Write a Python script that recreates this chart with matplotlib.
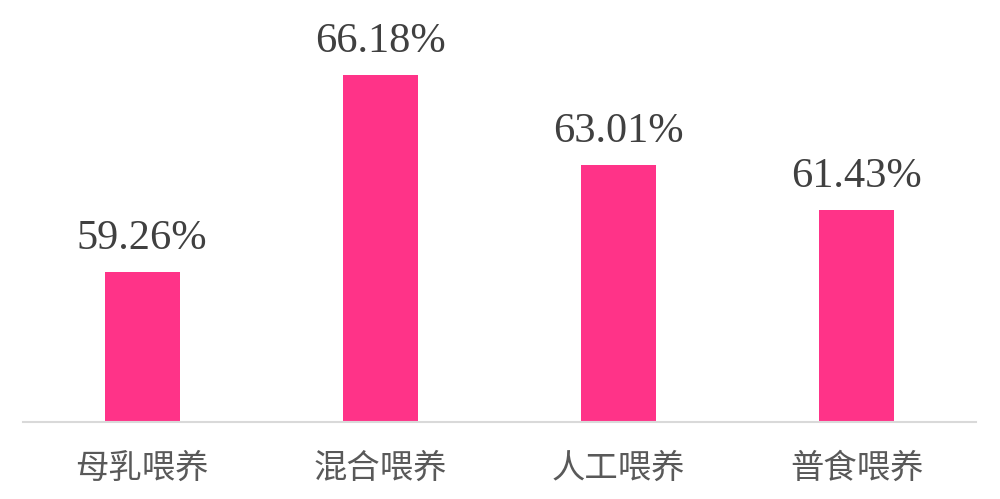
import matplotlib
matplotlib.use('Agg')
import matplotlib.pyplot as plt

categories = ['母乳喂养', '混合喂养', '人工喂养', '普食喂养']
values = [59.26, 66.18, 63.01, 61.43]
labels = ['59.26%', '66.18%', '63.01%', '61.43%']

W, H = 1000, 499
fig = plt.figure(figsize=(W / 100, H / 100), dpi=100)
base = 422
ax = fig.add_axes([23 / W, 1 - base / H, 953 / W, base / H])

x = range(len(categories))
ax.bar(x, values, width=0.315, color='#FF3388', bottom=0)
ax.set_xlim(-0.5, 3.5)
ax.set_ylim(54, 54 + base / 28.47)

for i, v in enumerate(values):
    ax.annotate(labels[i], (i, v), xytext=(0, 14), textcoords='offset pixels',
                ha='center', va='bottom', fontsize=30.5, color='#404040',
                family='Liberation Serif')

ax.set_xticks(list(x))
ax.set_xticklabels(categories, fontsize=24, color='#595959', family=['Noto Sans CJK SC', 'DejaVu Sans'])
ax.tick_params(axis='x', length=0, pad=21)
ax.set_yticks([])
for s in ['top', 'right', 'left']:
    ax.spines[s].set_visible(False)
ax.spines['bottom'].set_color('#D9D9D9')
ax.spines['bottom'].set_linewidth(1.5)
ax.patch.set_alpha(0)

fig.savefig('out.png', dpi=100)
